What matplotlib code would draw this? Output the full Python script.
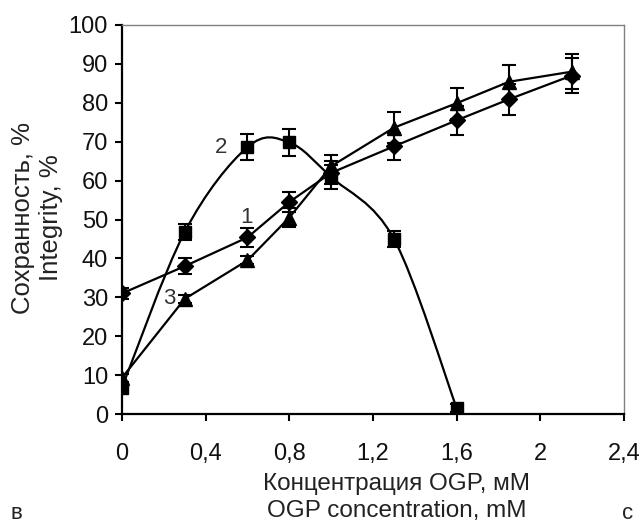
import matplotlib.pyplot as plt
from matplotlib.path import Path
from matplotlib.patches import PathPatch
import numpy as np

plt.rcParams['font.family'] = ['Liberation Sans', 'DejaVu Sans']

# curve 1 (diamonds)
x1 = [0, 0.3, 0.6, 0.8, 1.0, 1.3, 1.6, 1.85, 2.15]
y1 = [31, 38, 45.4, 54.5, 62, 68.8, 75.5, 80.9, 87]
e1 = [1.5, 2, 2.5, 2.5, 3, 3.5, 3.8, 4, 4.5]

# curve 3 (triangles)
x3 = [0, 0.3, 0.6, 0.8, 1.0, 1.3, 1.6, 1.85, 2.15]
y3 = [9.3, 29.6, 39.5, 50.5, 63.7, 73.6, 79.9, 85.4, 88]
e3 = [1, 1, 1, 2.5, 3, 4, 4, 4.3, 4.5]

# curve 2 (squares, smoothed)
x2 = [0, 0.3, 0.6, 0.8, 1.0, 1.3, 1.6]
y2 = [6.8, 46.8, 68.6, 69.8, 60.9, 45, 1.5]
e2 = [1.5, 2, 3.3, 3.4, 3, 2, 1]

xticks = [0, 0.4, 0.8, 1.2, 1.6, 2.0, 2.4]
xticklabels = ['0', '0,4', '0,8', '1,2', '1,6', '2', '2,4']
yticks = list(range(0, 101, 10))


def smooth_path(xs, ys):
    # excel-like smoothed line: cubic beziers through the points
    p = np.column_stack([xs, ys]).astype(float)
    n = len(p)
    verts = [p[0]]
    codes = [Path.MOVETO]
    for i in range(n - 1):
        prev = p[i - 1] if i > 0 else p[i]
        nxt = p[i + 2] if i + 2 < n else p[i + 1]
        c1 = p[i] + (p[i + 1] - prev) / 6
        c2 = p[i + 1] - (nxt - p[i]) / 6
        verts += [c1, c2, p[i + 1]]
        codes += [Path.CURVE4] * 3
    return Path(verts, codes)


fig = plt.figure(figsize=(6.42, 5.25), dpi=100)
ax = fig.add_axes([0.1900, 0.2114, 0.7820, 0.7410])

ax.add_patch(PathPatch(smooth_path(x2, y2), fill=False, edgecolor='black', lw=1.6, zorder=2))

ebkw = dict(color='black', ecolor='black', elinewidth=1.5, capsize=5, capthick=1.5, zorder=3)
ax.errorbar(x1, y1, yerr=e1, marker='D', markersize=8, lw=1.6, **ebkw)
ax.errorbar(x3, y3, yerr=e3, marker='^', markersize=9.5, lw=1.6, **ebkw)
ax.errorbar(x2, y2, yerr=e2, marker='s', markersize=9, ls='none', **ebkw)

ax.text(0.474, 68.6, '2', fontsize=16, color='#333333', ha='center', va='center')
ax.text(0.594, 50.5, '1', fontsize=16, color='#333333', ha='center', va='center')
ax.text(0.225, 29.6, '3', fontsize=16, color='#333333', ha='center', va='center')

ax.set_xlim(0, 2.4)
ax.set_ylim(0, 100)
ax.set_xticks(xticks)
ax.set_xticklabels(xticklabels)
ax.set_yticks(yticks)
ax.tick_params(axis='both', direction='out', length=5, width=1.5, labelsize=17,
               labelcolor='#111111')
ax.tick_params(axis='x', pad=16)
ax.tick_params(axis='y', pad=5)

for s in ['left', 'bottom']:
    ax.spines[s].set_linewidth(1.6)
    ax.spines[s].set_color('black')
for s in ['top', 'right']:
    ax.spines[s].set_linewidth(1.0)
    ax.spines[s].set_color('#808080')

fig.text(0.618, 0.052, 'Концентрация OGP, мМ\nOGP concentration, mM', fontsize=17.5,
         ha='center', va='center', color='#222222', linespacing=1.3)
fig.text(0.058, 0.585, 'Сохранность, %\nIntegrity, %', fontsize=18.5, rotation=90,
         ha='center', va='center', color='#222222', linespacing=1.2)
fig.text(0.025, 0.022, 'в', fontsize=16, ha='center', va='center', color='#222222')
fig.text(0.978, 0.022, 'с', fontsize=16, ha='center', va='center', color='#222222')

fig.savefig('out.png', dpi=100)
